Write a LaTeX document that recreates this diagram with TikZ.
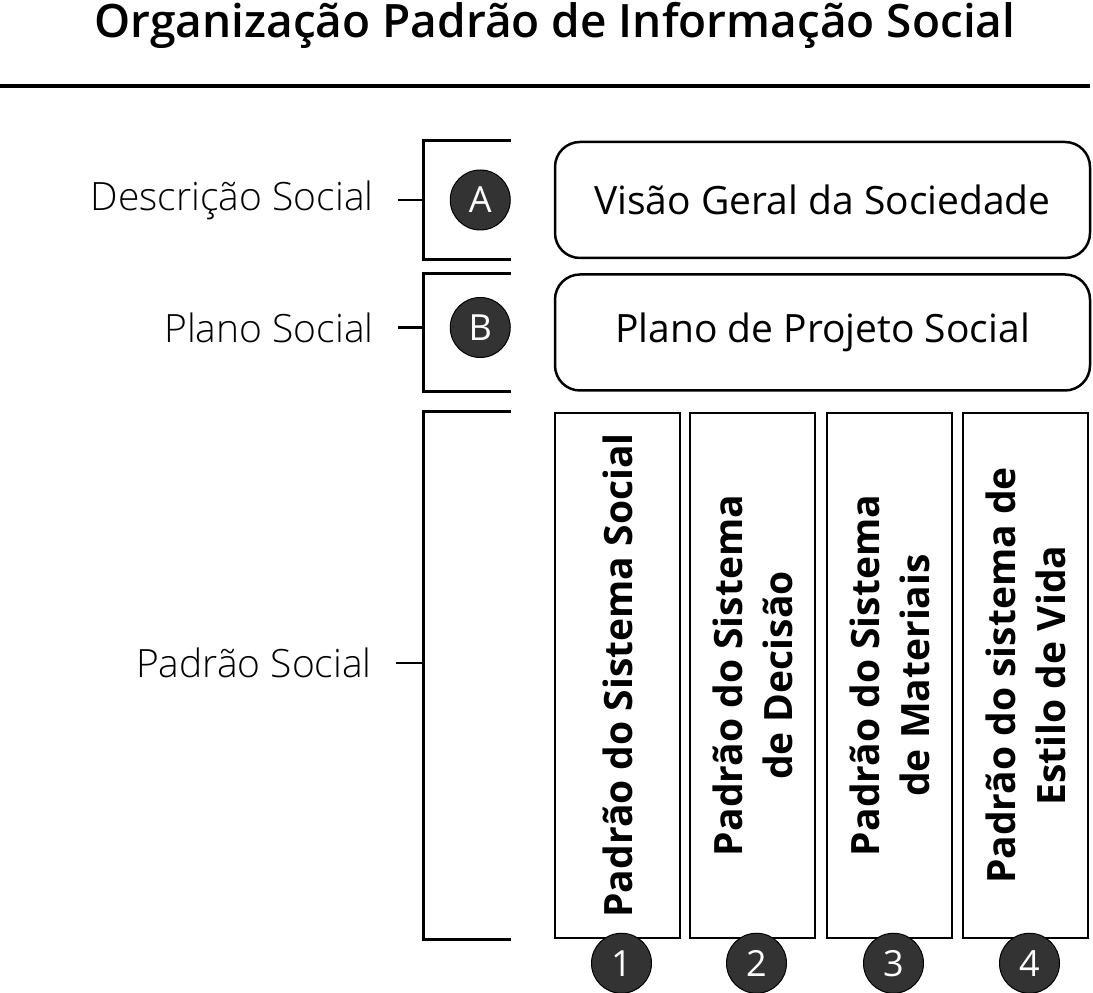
\documentclass[tikz,border=0pt]{standalone}
\usepackage{fontspec}
\setmainfont{Open Sans}
\newfontfamily\lightfont{Open Sans Light}
\newfontfamily\semifont{Open Sans Semibold}
\usetikzlibrary{positioning}

\begin{document}
\begin{tikzpicture}[x=1pt, y=1pt, node distance=11pt,
  bigbox/.style={draw, line width=2.5pt, rounded corners=25pt, minimum width=535pt, minimum height=116pt, font=\fontsize{39}{46}\selectfont},
  colbox/.style={draw, line width=2.5pt, minimum width=125pt, minimum height=525pt},
  coltext/.style={rotate=90, align=center, inner sep=0pt, font=\fontsize{39}{50}\selectfont\bfseries},
  badge/.style={circle, draw, line width=1pt, fill=black!80, text=white, minimum size=60pt, inner sep=0pt, font=\fontsize{36}{42}\selectfont},
  side/.style={inner sep=0pt, font=\fontsize{39}{46}\selectfont\lightfont},
  brace/.style={line width=3pt}]
  \useasboundingbox (0,0) rectangle (1093,993);

  % Title and rule
  \node[font=\fontsize{46}{54}\selectfont\semifont] (title) at (555,968) {Organização Padrão de Informação Social};
  \draw[line width=3.5pt] (0,907) -- (1090,907);

  % Define nodes
  \node[bigbox]                                 (vis)  at (822.5,793) {Visão Geral da Sociedade};
  \node[bigbox, below=14pt of vis]              (plan) {Plano de Projeto Social};
  \node[colbox, below right=20pt and 0pt of plan.south west] (c1) {};
  \node[colbox, right=7.5pt of c1]              (c2) {};
  \node[colbox, right=9.5pt of c2]              (c3) {};
  \node[colbox, right=8.5pt of c3]              (c4) {};

  \node[coltext] at (c1) {Padrão do Sistema Social};
  \node[coltext] at (c2) {Padrão do Sistema\\de Decisão};
  \node[coltext] at (c3) {Padrão do Sistema\\de Materiais};
  \node[coltext] at (c4) {Padrão do sistema de\\Estilo de Vida};

  \node[badge, xshift=4pt, yshift=-24pt] (n1) at (c1.south) {1};
  \node[badge, xshift=4pt, yshift=-24pt] (n2) at (c2.south) {2};
  \node[badge, xshift=4pt, yshift=-24pt] (n3) at (c3.south) {3};
  \node[badge, xshift=4pt, yshift=-24pt] (n4) at (c4.south) {4};

  \node[badge, left=43pt of vis]                (A)  {A};
  \node[badge, left=43pt of plan, yshift=5pt]   (B)  {B};

  \node[side, left=76pt of A]                   (dA) {Descrição Social};
  \node[side, left=76pt of B]                   (dB) {Plano Social};
  \node[side, anchor=east]                      (dC) at (372,330) {Padrão Social};

  % Brackets
  \coordinate (bL) at (423,0);
  \coordinate (bR) at (511,0);
  \draw[brace] (vis.north -| bR) -- (vis.north -| bL) -- (vis.south -| bL) -- (vis.south -| bR);
  \draw[brace] (plan.north -| bR) -- (plan.north -| bL) -- (plan.south -| bL) -- (plan.south -| bR);
  \draw[brace] (c1.north -| bR) -- (c1.north -| bL) -- (c1.south -| bL) -- (c1.south -| bR);

  % Connect the labels
  \draw[line width=2.5pt] ([xshift=24pt]dA.east) -- (dA -| bL);
  \draw[line width=2.5pt] ([xshift=24pt]dB.east) -- (dB -| bL);
  \draw[line width=2.5pt] ([xshift=24pt]dC.east) -- (dC -| bL);
\end{tikzpicture}
\end{document}
